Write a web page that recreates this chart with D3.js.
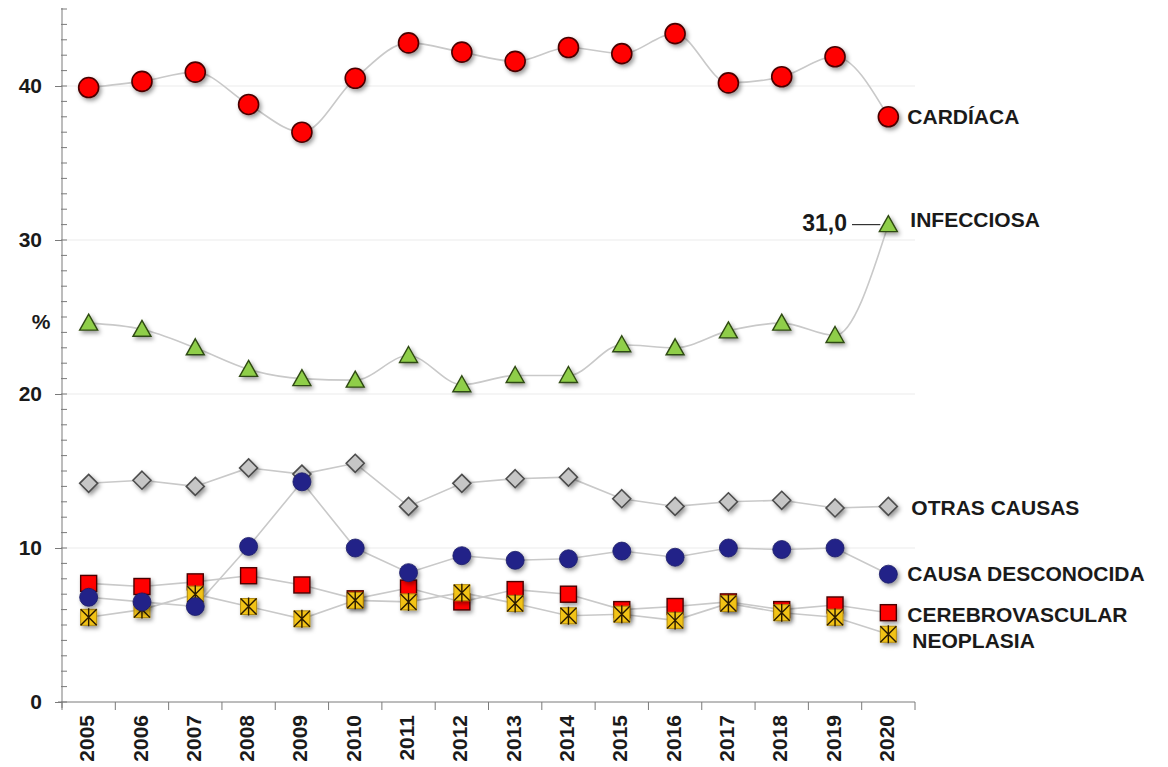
<!DOCTYPE html>
<html><head><meta charset="utf-8">
<script src="https://cdn.jsdelivr.net/npm/d3@7"></script>
<style>
html,body{margin:0;padding:0;background:#fff;}
svg text{font-family:"Liberation Sans",Arial,sans-serif;font-weight:bold;fill:#1a1a1a;}
</style></head>
<body>
<svg id="chart" width="1168" height="767"></svg>
<script>
const years = ["2005","2006","2007","2008","2009","2010","2011","2012","2013","2014","2015","2016","2017","2018","2019","2020"];
const cardiaca      = [39.9, 40.3, 40.9, 38.8, 37.0, 40.5, 42.8, 42.2, 41.6, 42.5, 42.1, 43.4, 40.2, 40.6, 41.9, 38.0];
const infecciosa    = [24.6, 24.2, 23.0, 21.6, 21.0, 20.9, 22.5, 20.6, 21.2, 21.2, 23.2, 23.0, 24.1, 24.6, 23.8, 31.0];
const otrasCausas   = [14.2, 14.4, 14.0, 15.2, 14.8, 15.5, 12.7, 14.2, 14.5, 14.6, 13.2, 12.7, 13.0, 13.1, 12.6, 12.7];
const desconocida   = [6.8, 6.5, 6.2, 10.1, 14.3, 10.0, 8.4, 9.5, 9.2, 9.3, 9.8, 9.4, 10.0, 9.9, 10.0, 8.3];
const cerebro       = [7.7, 7.5, 7.8, 8.2, 7.6, 6.7, 7.4, 6.5, 7.3, 7.0, 6.0, 6.2, 6.5, 6.0, 6.3, 5.8];
const neoplasia     = [5.5, 6.0, 7.0, 6.2, 5.4, 6.6, 6.5, 7.1, 6.4, 5.6, 5.7, 5.3, 6.4, 5.8, 5.5, 4.4];
const yTickLabels   = [0, 10, 20, 30, 40];
const seriesNames   = ["CARDÍACA","INFECCIOSA","OTRAS CAUSAS","CAUSA DESCONOCIDA","CEREBROVASCULAR","NEOPLASIA"];
const highlightLabel = "31,0";

const svg = d3.select("#chart");
const x = d3.scaleBand().domain(years).range([62, 915]).paddingInner(0).paddingOuter(0);
const y = d3.scaleLinear().domain([0, 45]).range([702, 9]);
const cx = d => x(d) + x.bandwidth()/2;

const defs = svg.append("defs");
const f = defs.append("filter").attr("id","sh").attr("x","-50%").attr("y","-50%").attr("width","200%").attr("height","200%");
f.append("feDropShadow").attr("dx",2).attr("dy",2.5).attr("stdDeviation",2).attr("flood-color","#000").attr("flood-opacity",0.4);

// gridlines
svg.append("g").selectAll("line").data(yTickLabels.filter(v=>v>0)).join("line")
  .attr("x1",62).attr("x2",915).attr("y1",d=>y(d)).attr("y2",d=>y(d))
  .attr("stroke","#ebebeb").attr("stroke-width",1);

// y axis
const yAxisG = svg.append("g").attr("transform","translate(62,0)");
yAxisG.call(d3.axisLeft(y).tickValues(yTickLabels).tickSize(7).tickPadding(13).tickFormat(d=>d));
yAxisG.select(".domain").attr("stroke","#7a7a7a").attr("d","M0,708V8");
yAxisG.selectAll(".tick line").attr("stroke","#7a7a7a");
yAxisG.selectAll(".tick text").style("font-size","21px").style("fill","#1a1a1a");
yAxisG.selectAll(".minor").data(d3.range(0,46)).join("line").attr("class","minor")
  .attr("x1",-1).attr("x2",5).attr("y1",d=>y(d)).attr("y2",d=>y(d)).attr("stroke","#7a7a7a");
svg.append("text").attr("x",41).attr("y",y(24.6)).attr("text-anchor","middle").attr("dominant-baseline","middle")
  .style("font-size","21px").text("%");

// x axis
const xAxisG = svg.append("g").attr("transform","translate(0,702)");
xAxisG.append("line").attr("x1",58).attr("x2",915).attr("stroke","#7a7a7a");
xAxisG.selectAll(".xt").data(years.concat(["end"])).join("line").attr("class","xt")
  .attr("x1",(d,i)=> i<years.length ? x(d) : x(years[years.length-1])+x.bandwidth())
  .attr("x2",(d,i)=> i<years.length ? x(d) : x(years[years.length-1])+x.bandwidth())
  .attr("y1",0).attr("y2",8).attr("stroke","#7a7a7a");
xAxisG.selectAll(".xl").data(years).join("text").attr("class","xl")
  .attr("transform",d=>`translate(${cx(d)},13) rotate(-90)`)
  .attr("text-anchor","end").attr("dominant-baseline","middle")
  .style("font-size","21px").text(d=>d);

// lines
const lineStraight = d3.line().x((d,i)=>cx(years[i])).y(d=>y(d));
const lineSmooth = d3.line().x((d,i)=>cx(years[i])).y(d=>y(d)).curve(d3.curveMonotoneX);
const lg = svg.append("g").attr("fill","none").attr("stroke","#c9c9c9").attr("stroke-width",1.6);
[otrasCausas, desconocida, cerebro, neoplasia].forEach(s=>lg.append("path").attr("d",lineStraight(s)));
[cardiaca, infecciosa].forEach(s=>lg.append("path").attr("d",lineSmooth(s)));

// markers
const mg = svg.append("g");
mg.append("g").selectAll("path").data(otrasCausas).join("path")
  .attr("d","M0,-9L9,0L0,9L-9,0Z").attr("transform",(d,i)=>`translate(${cx(years[i])},${y(d)})`)
  .attr("fill","#c6c6c6").attr("stroke","#4d4d4d").attr("stroke-width",1.6).attr("filter","url(#sh)");
mg.append("g").selectAll("rect").data(cerebro).join("rect")
  .attr("x",(d,i)=>cx(years[i])-8).attr("y",d=>y(d)-8).attr("width",16).attr("height",16)
  .attr("fill","#ff0000").attr("stroke","#4a0000").attr("stroke-width",1.4).attr("filter","url(#sh)");
const ng = mg.append("g").selectAll("g").data(neoplasia).join("g")
  .attr("transform",(d,i)=>`translate(${cx(years[i])},${y(d)})`);
ng.append("rect").attr("x",-8).attr("y",-8).attr("width",16).attr("height",16)
  .attr("fill","#f2c318").attr("stroke","#b08a10").attr("stroke-width",1).attr("filter","url(#sh)");
ng.append("path").attr("d","M-8,-8L8,8M8,-8L-8,8M0,-9V9").attr("stroke","#2a1a00").attr("stroke-width",1.4).attr("fill","none");
mg.append("g").selectAll("circle").data(desconocida).join("circle")
  .attr("cx",(d,i)=>cx(years[i])).attr("cy",d=>y(d)).attr("r",9)
  .attr("fill","#222488").attr("stroke","#1a1a66").attr("stroke-width",0.8).attr("filter","url(#sh)");
mg.append("g").selectAll("path").data(infecciosa).join("path")
  .attr("d","M0,-9L9,7L-9,7Z").attr("transform",(d,i)=>`translate(${cx(years[i])},${y(d)})`)
  .attr("fill","#8fce4a").attr("stroke","#2f4a12").attr("stroke-width",1.4).attr("filter","url(#sh)");
mg.append("g").selectAll("circle").data(cardiaca).join("circle")
  .attr("cx",(d,i)=>cx(years[i])).attr("cy",d=>y(d)).attr("r",10)
  .attr("fill","#ff0000").attr("stroke","#4a0000").attr("stroke-width",1.6).attr("filter","url(#sh)");

// series labels
const last = years.length-1;
const lx = cx(years[last]) + 19;
const labelData = [
  {t:seriesNames[0], v:cardiaca[last], dy:2, dx:0},
  {t:seriesNames[1], v:infecciosa[last], dy:-3, dx:3},
  {t:seriesNames[2], v:otrasCausas[last], dy:3, dx:4},
  {t:seriesNames[3], v:desconocida[last], dy:1, dx:0},
  {t:seriesNames[4], v:cerebro[last], dy:4, dx:0},
  {t:seriesNames[5], v:neoplasia[last], dy:8, dx:5}
];
svg.append("g").selectAll("text").data(labelData).join("text")
  .attr("x",d=>lx+d.dx).attr("y",d=>y(d.v)+d.dy).attr("dominant-baseline","middle")
  .style("font-size","21px").text(d=>d.t);

// 31,0 callout
const py = y(infecciosa[last]);
svg.append("line").attr("x1",852).attr("x2",cx(years[last])-8).attr("y1",py).attr("y2",py)
  .attr("stroke","#333").attr("stroke-width",1.2);
svg.append("text").attr("x",847).attr("y",py).attr("text-anchor","end").attr("dominant-baseline","middle")
  .style("font-size","23px").text(highlightLabel);
</script>
</body></html>
